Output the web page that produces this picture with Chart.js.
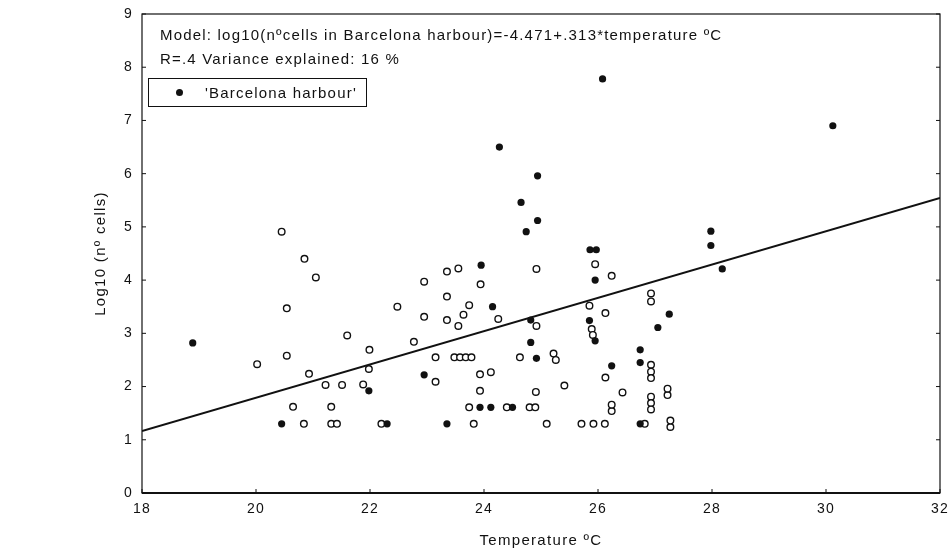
<!DOCTYPE html>
<html>
<head>
<meta charset="utf-8">
<script src="https://cdn.jsdelivr.net/npm/chart.js@4.4.1/dist/chart.umd.min.js"></script>
<style>
  body { margin: 0; background: #fff; }
  #wrap { position: relative; width: 950px; height: 554px; }
  .note { position: absolute; font-family: "Liberation Sans", Arial, sans-serif; font-size: 15px; color: #111; letter-spacing: 1.2px; white-space: nowrap; line-height: 17px; }
  #legend { position: absolute; left: 148px; top: 78px; width: 217px; height: 27px; border: 1.5px solid #111; }
  #legend .dot { position: absolute; left: 27px; top: 10px; width: 7px; height: 7px; border-radius: 50%; background: #111; }
  #legend .txt { left: 56px; top: 5px; }
</style>
</head>
<body>
<div id="wrap">
  <canvas id="myChart"></canvas>
  <div class="note" style="left:160px; top:26px;">Model: log10(nºcells in Barcelona harbour)=-4.471+.313*temperature ºC</div>
  <div class="note" style="left:160px; top:50px;">R=.4 Variance explained: 16 %</div>
  <div id="legend"><span class="dot"></span><span class="note txt">'Barcelona harbour'</span></div>
</div>
<script>
// samples from Barcelona harbour (filled dots)
var harbourTemp = [18.89, 20.45, 21.98, 22.30, 22.95, 23.35, 23.93, 24.12, 24.50, 23.95, 24.15, 24.27,
  24.65, 24.74, 24.94, 24.94, 24.82, 24.82, 24.92, 25.86, 25.97, 25.95, 25.85, 25.95, 26.08, 26.24,
  26.74, 26.74, 26.74, 27.05, 27.25, 27.98, 27.98, 28.18, 30.12];
var harbourLog = [2.82, 1.30, 1.92, 1.30, 2.22, 1.30, 1.61, 1.61, 1.61, 4.28, 3.50, 6.50,
  5.46, 4.91, 5.12, 5.96, 3.25, 2.83, 2.53, 4.57, 4.57, 4.00, 3.24, 2.86, 7.78, 2.39,
  2.69, 2.45, 1.30, 3.11, 3.36, 4.92, 4.65, 4.21, 6.90];

// other samples (open circles)
var otherTemp = [20.02, 20.45, 20.54, 20.54, 20.65, 20.84, 20.85, 20.93, 21.05, 21.22, 21.32, 21.32,
  21.42, 21.51, 21.60, 21.88, 21.99, 21.98, 22.20, 22.48, 22.77, 22.95, 22.95, 23.15, 23.15, 23.35,
  23.55, 23.35, 23.35, 23.55, 23.64, 23.74, 23.48, 23.58, 23.68, 23.78, 23.82, 23.74, 23.94, 24.25,
  23.93, 24.12, 23.93, 24.40, 24.80, 24.90, 24.63, 24.91, 24.92, 24.92, 25.10, 25.22, 25.26, 25.41,
  25.71, 25.92, 26.12, 25.85, 25.95, 26.24, 26.13, 25.89, 25.91, 26.13, 26.43, 26.24, 26.24, 26.82,
  26.93, 26.93, 26.93, 26.93, 26.93, 26.93, 26.93, 26.93, 27.22, 27.22, 27.27, 27.27];
var otherLog = [2.42, 4.91, 3.47, 2.58, 1.62, 1.30, 4.40, 2.24, 4.05, 2.03, 1.62, 1.30,
  1.30, 2.03, 2.96, 2.04, 2.69, 2.33, 1.30, 3.50, 2.84, 3.97, 3.31, 2.55, 2.09, 4.16,
  4.22, 3.69, 3.25, 3.14, 3.35, 3.53, 2.55, 2.55, 2.55, 2.55, 1.30, 1.61, 3.92, 3.27,
  2.23, 2.27, 1.92, 1.61, 1.61, 1.61, 2.55, 1.90, 4.21, 3.14, 1.30, 2.62, 2.50, 2.02,
  1.30, 1.30, 1.30, 3.52, 4.30, 4.08, 3.38, 3.08, 2.97, 2.17, 1.89, 1.54, 1.66, 1.30,
  3.75, 3.60, 2.41, 2.28, 2.16, 1.81, 1.69, 1.57, 1.84, 1.96, 1.24, 1.36];

// model line: log10 = -4.471 + .313 * T, at both ends of the axis
var fitTemp = [18, 32];
var fitLog = [1.163, 5.545];

var xTicks = [18, 20, 22, 24, 26, 28, 30, 32];
var yTicks = [0, 1, 2, 3, 4, 5, 6, 7, 8, 9];

function pairs(xs, ys) {
    return xs.map((x, i) => ({ x: x, y: ys[i] }));
}

var ink = '#111';
var font = { family: "'Liberation Sans', Arial, sans-serif", size: 14 };
var titleFont = { family: "'Liberation Sans', Arial, sans-serif", size: 15 };

// wide letter spacing like the typewriter-ish original labels
var spacing = {
    id: 'spacing',
    beforeDraw(chart) {
        if ('letterSpacing' in chart.ctx) chart.ctx.letterSpacing = '1.3px';
    }
};

// frame round the plot and short inward ticks
var frame = {
    id: 'frame',
    afterDraw(chart) {
        const { ctx, chartArea: a, scales } = chart;
        ctx.save();
        ctx.strokeStyle = ink;
        ctx.lineWidth = 1.2;
        ctx.strokeRect(a.left, a.top, a.right - a.left, a.bottom - a.top);
        ctx.lineWidth = 2;
        ctx.beginPath();
        ctx.moveTo(a.left, a.bottom);
        ctx.lineTo(a.right, a.bottom);
        ctx.stroke();
        ctx.lineWidth = 1;
        ctx.beginPath();
        for (let v of yTicks) {
            let py = scales.y.getPixelForValue(v);
            ctx.moveTo(a.left, py); ctx.lineTo(a.left + 4, py);
            ctx.moveTo(a.right, py); ctx.lineTo(a.right - 4, py);
        }
        for (let v of xTicks) {
            let px = scales.x.getPixelForValue(v);
            ctx.moveTo(px, a.bottom); ctx.lineTo(px, a.bottom - 4);
        }
        ctx.stroke();
        ctx.restore();
    }
};

const CHART = document.getElementById("myChart");
let myChart = new Chart(CHART, {
    type: 'scatter',
    data: {
        datasets: [{
            label: 'fit',
            type: 'line',
            data: pairs(fitTemp, fitLog),
            borderColor: ink,
            borderWidth: 2,
            pointRadius: 0,
            order: 3
        }, {
            label: 'other',
            data: pairs(otherTemp, otherLog),
            pointRadius: 3.3,
            pointBorderWidth: 1.4,
            pointBackgroundColor: '#fff',
            pointBorderColor: ink,
            order: 2
        }, {
            label: "'Barcelona harbour'",
            data: pairs(harbourTemp, harbourLog),
            pointRadius: 3.6,
            pointBorderWidth: 0,
            pointBackgroundColor: ink,
            pointBorderColor: ink,
            order: 1
        }]
    },
    options: {
        responsive: true,
        maintainAspectRatio: false,
        animation: false,
        layout: { padding: { left: 88, top: 14, right: 10, bottom: 0 } },
        plugins: { legend: { display: false }, tooltip: { enabled: false } },
        scales: {
            x: {
                type: 'linear',
                min: 18, max: 32,
                afterFit(s) { s.height = 61; s.paddingLeft = 0; s.paddingRight = 0; },
                afterBuildTicks(s) { s.ticks = xTicks.map(v => ({ value: v })); },
                grid: { display: false, drawTicks: false },
                border: { display: false },
                ticks: { color: ink, font: font, padding: 8, maxRotation: 0 },
                title: { display: true, text: 'Temperature ºC', color: ink, font: titleFont, padding: { top: 4, bottom: 4 } }
            },
            y: {
                type: 'linear',
                min: 0, max: 9,
                afterFit(s) { s.width = 54; s.paddingTop = 0; s.paddingBottom = 0; },
                afterBuildTicks(s) { s.ticks = yTicks.map(v => ({ value: v })); },
                grid: { display: false, drawTicks: false },
                border: { display: false },
                ticks: { color: ink, font: font, padding: 9 },
                title: { display: true, text: 'Log10 (nº cells)', color: ink, font: titleFont, padding: { top: 4, bottom: 4 } }
            }
        }
    },
    plugins: [spacing, frame]
});
</script>
</body>
</html>
